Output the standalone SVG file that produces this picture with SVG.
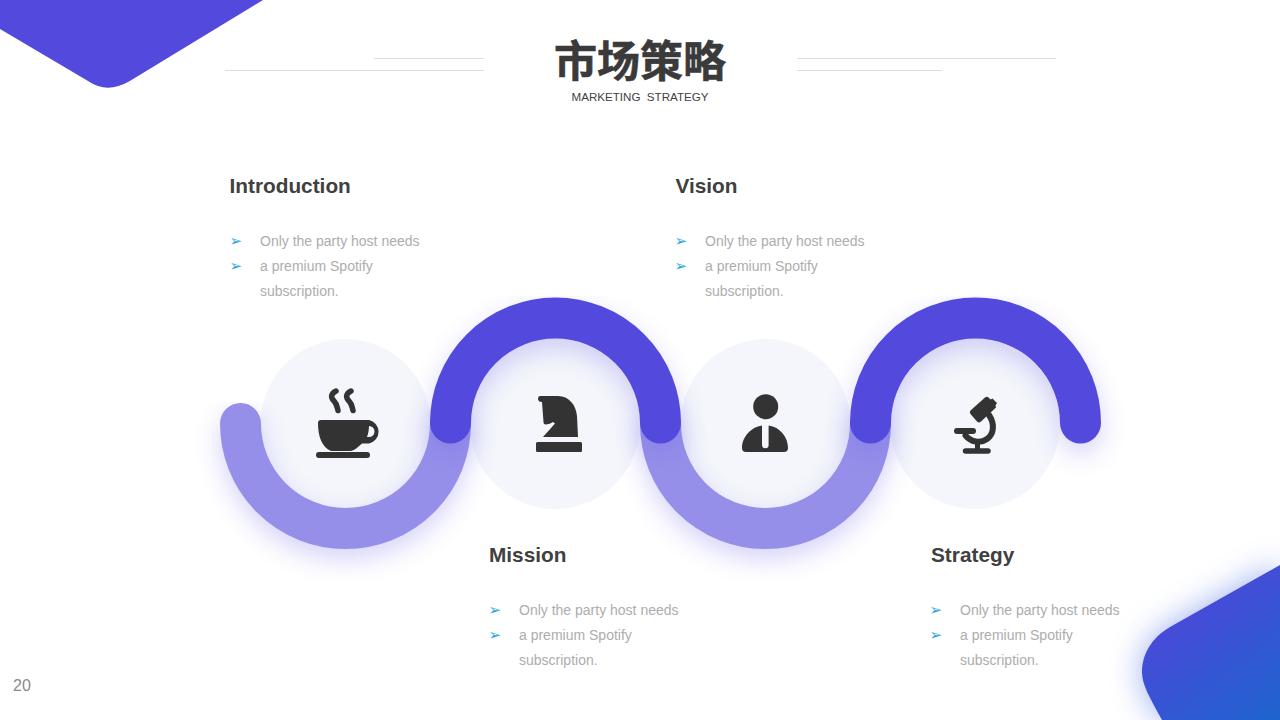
<svg xmlns="http://www.w3.org/2000/svg" width="1280" height="720" viewBox="0 0 1280 720">
<style>
.hd{font:bold 20.800px "Liberation Sans",Arial,sans-serif;fill:#404040}
.bd{font:14px "Liberation Sans",Arial,sans-serif;fill:#adadad}
.bl{font:15px "DejaVu Sans",sans-serif;fill:#1ca6e0}
.rule{stroke:#dedede;stroke-width:1;fill:none}
.disc{fill:#f4f6fb}
.ic{fill:#333333}
.ics{fill:none;stroke:#333333;stroke-linecap:round}
.lo{fill:none;stroke:#958fe9;stroke-width:41;stroke-linecap:round}
.up{fill:none;stroke:#5349dd;stroke-width:41;stroke-linecap:round}
.shd{fill:none;stroke:#6a60e8;stroke-width:41;stroke-linecap:round}
</style>
<defs>
<linearGradient id="cg" gradientUnits="userSpaceOnUse" x1="1175" y1="610" x2="1265" y2="730"><stop offset="0" stop-color="#4a49d8"/><stop offset="1" stop-color="#1e64cf"/></linearGradient>
<filter id="sh" x="-30%" y="-30%" width="160%" height="170%"><feGaussianBlur stdDeviation="13"/></filter>
<filter id="gl" x="-40%" y="-40%" width="180%" height="180%"><feGaussianBlur stdDeviation="16"/></filter>
</defs>
<rect width="1280" height="720" fill="#fff"/>
<g id="deco">
<path d="M0 0H263L129 81.500Q107 94 88 81L0 29Z" fill="#5349dd"/>
<path d="M1280 565L1170 627C1151 638 1142 655 1142 672C1142 685 1150 698 1162 720H1280Z" fill="#4a6ae6" opacity=".55" filter="url(#gl)"/>
<path d="M1280 565L1170 627C1151 638 1142 655 1142 672C1142 685 1150 698 1162 720H1280Z" fill="url(#cg)"/>
<line class="rule" x1="374" y1="58.500" x2="484" y2="58.500"/>
<line class="rule" x1="225" y1="70.500" x2="484" y2="70.500"/>
<line class="rule" x1="797" y1="58.500" x2="1056" y2="58.500"/>
<line class="rule" x1="797" y1="70.500" x2="942" y2="70.500"/>
</g>
<g id="title">
<text x="640" y="77" text-anchor="middle" font-family="'Noto Sans CJK SC',sans-serif" font-weight="700" font-size="43" fill="#3a3a3a" stroke="#3a3a3a" stroke-width=".6">市场策略</text>
<text x="640" y="101" text-anchor="middle" font-family="'Liberation Sans',Arial,sans-serif" font-size="11.600" fill="#3f3f3f" xml:space="preserve">MARKETING  STRATEGY</text>
</g>
<g id="discs">
<circle class="disc" cx="345.500" cy="424" r="85"/>
<circle class="disc" cx="555" cy="424" r="85"/>
<circle class="disc" cx="765.500" cy="424" r="85"/>
<circle class="disc" cx="975" cy="424" r="85"/>
</g>
<g id="connectors">
<g filter="url(#sh)" opacity=".28">
<path class="shd" d="M240.500 433.500A105 105 0 0 0 450.500 433.500"/>
<path class="shd" d="M660.500 433.500A105 105 0 0 0 870.500 433.500"/>
</g>
<path class="lo" d="M240.500 423.500A105 105 0 0 0 450.500 423.500"/>
<path class="lo" d="M660.500 423.500A105 105 0 0 0 870.500 423.500"/>
<g filter="url(#sh)" opacity=".28">
<path class="shd" d="M450.500 433A105 105 0 0 1 660.500 433"/>
<path class="shd" d="M870.500 433A105 105 0 0 1 1080.500 433"/>
</g>
<path class="up" d="M450.500 423A105 105 0 0 1 660.500 423"/>
<path class="up" d="M870.500 423A105 105 0 0 1 1080.500 423"/>
</g>
<g id="icon-cup">
<path class="ic" fill-rule="evenodd" d="M321 420H369A12 12 0 0 1 369 443.500H362C358 447 355 450 351 451H331C322 447 318 437 318 423Q318 420 321 420ZM369 426C368.800 430 368.300 434 367 437H369A5.500 5.500 0 0 0 369 426Z"/>
<rect class="ic" x="316" y="452" width="54" height="6" rx="3"/>
<path class="ics" stroke-width="5.500" d="M336 391C330 394 331 398 334 401C337 404 337 407 338 410.500"/>
<path class="ics" stroke-width="5.500" d="M351 391C345 394 346 398 349 401C352 404 352 407 353 410.500"/>
</g>
<g id="icon-knight">
<path class="ic" d="M540 396H558C569 396 576 405 577 416L578 437H543L555 423.500L553 422Q550 424 546 424.500Q543.500 424.500 543.500 422L542 402Q538 402 538 398.500Q538 396 540 396Z"/>
<rect class="ic" x="536" y="442" width="46" height="10" rx="1.500"/>
</g>
<g id="icon-person">
<circle class="ic" cx="765.700" cy="406.700" r="12.500"/>
<path class="ic" d="M762 425.500V445A3.300 3.300 0 0 0 768.600 445V425.500C780 427 788 437 788 448Q788 452 784 452H746Q742 452 742 448C742 437 751 427 762 425.500Z"/>
</g>
<g id="icon-microscope">
<path class="ic" d="M970.500 410.500L985 397.500Q987 396 988.500 397.500L990.500 399.500L992.500 398.500L997 403L995.500 405.500L996 407.500L981 421.500Q979 423.500 977 421.500L970.500 414Q969 412 970.500 410.500Z"/>
<path class="ics" stroke-width="6" d="M989 415C995 424 994 434 987 439C980 444 971 442 965.500 435.500"/>
<path class="ics" stroke-width="6" d="M957 431H973"/>
<path class="ic" d="M975 442H980V450H975Z"/>
<path class="ics" stroke-width="5.500" d="M965.500 451H988"/>
</g>
<g id="node-introduction">
<text class="hd" x="229.500" y="193">Introduction</text>
<text class="bl" x="229.500" y="246">➢</text><text class="bd" x="260" y="246">Only the party host needs</text>
<text class="bl" x="229.500" y="271">➢</text><text class="bd" x="260" y="271">a premium Spotify</text>
<text class="bd" x="260" y="296">subscription.</text>
</g>
<g id="node-vision">
<text class="hd" x="675.500" y="193">Vision</text>
<text class="bl" x="674.500" y="246">➢</text><text class="bd" x="705" y="246">Only the party host needs</text>
<text class="bl" x="674.500" y="271">➢</text><text class="bd" x="705" y="271">a premium Spotify</text>
<text class="bd" x="705" y="296">subscription.</text>
</g>
<g id="node-mission">
<text class="hd" x="489" y="562">Mission</text>
<text class="bl" x="488.500" y="615">➢</text><text class="bd" x="519" y="615">Only the party host needs</text>
<text class="bl" x="488.500" y="640">➢</text><text class="bd" x="519" y="640">a premium Spotify</text>
<text class="bd" x="519" y="665">subscription.</text>
</g>
<g id="node-strategy">
<text class="hd" x="931" y="562">Strategy</text>
<text class="bl" x="929.500" y="615">➢</text><text class="bd" x="960" y="615">Only the party host needs</text>
<text class="bl" x="929.500" y="640">➢</text><text class="bd" x="960" y="640">a premium Spotify</text>
<text class="bd" x="960" y="665">subscription.</text>
</g>
<text id="page" x="13" y="691" font-family="'Liberation Sans',Arial,sans-serif" font-size="16" fill="#8a8a8a">20</text>
</svg>
